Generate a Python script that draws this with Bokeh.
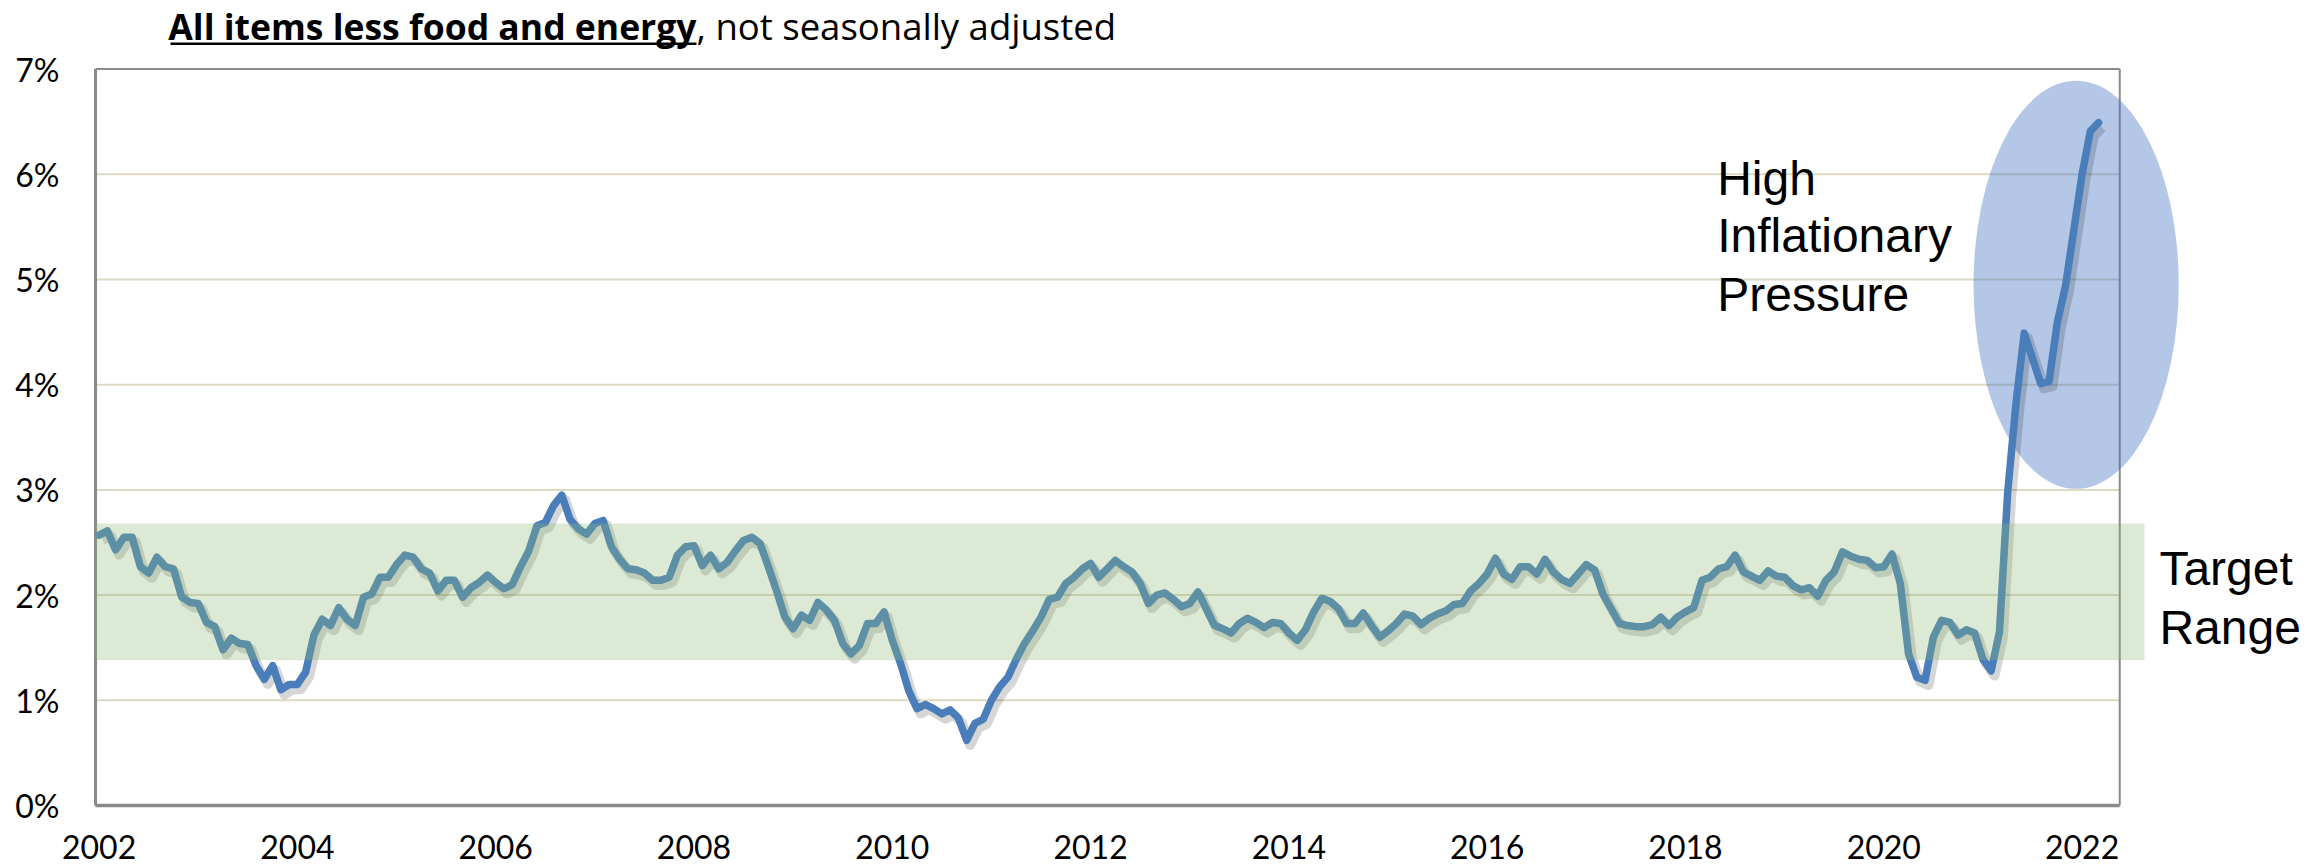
from bokeh.plotting import figure
from bokeh.models import Range1d
from bokeh.core.properties import value
from bokeh.embed import file_html
from bokeh.resources import INLINE

# ---- data: core CPI (all items less food and energy), YoY %, monthly ----
cpi_2002 = [2.57, 2.61, 2.43, 2.55, 2.55, 2.27, 2.21, 2.36, 2.27, 2.25, 1.98, 1.93]
cpi_2003 = [1.92, 1.74, 1.70, 1.48, 1.59, 1.54, 1.53, 1.33, 1.20, 1.33, 1.10, 1.15]
cpi_2004 = [1.15, 1.27, 1.62, 1.77, 1.71, 1.88, 1.77, 1.71, 1.98, 2.01, 2.17, 2.17]
cpi_2005 = [2.29, 2.38, 2.36, 2.25, 2.21, 2.04, 2.14, 2.14, 1.98, 2.07, 2.12, 2.19]
cpi_2006 = [2.12, 2.06, 2.10, 2.27, 2.42, 2.66, 2.69, 2.85, 2.95, 2.72, 2.63, 2.58]
cpi_2007 = [2.68, 2.71, 2.46, 2.34, 2.25, 2.24, 2.21, 2.14, 2.14, 2.17, 2.38, 2.46]
cpi_2008 = [2.47, 2.28, 2.38, 2.25, 2.31, 2.42, 2.52, 2.55, 2.49, 2.27, 2.04, 1.79]
cpi_2009 = [1.68, 1.81, 1.76, 1.93, 1.86, 1.76, 1.54, 1.44, 1.52, 1.73, 1.73, 1.84]
cpi_2010 = [1.57, 1.35, 1.09, 0.92, 0.96, 0.92, 0.87, 0.91, 0.83, 0.62, 0.78, 0.82]
cpi_2011 = [1.00, 1.13, 1.22, 1.39, 1.54, 1.66, 1.79, 1.96, 1.98, 2.11, 2.17, 2.25]
cpi_2012 = [2.30, 2.17, 2.25, 2.33, 2.27, 2.22, 2.11, 1.92, 2.00, 2.02, 1.96, 1.89]
cpi_2013 = [1.92, 2.03, 1.87, 1.71, 1.68, 1.64, 1.73, 1.78, 1.74, 1.69, 1.74, 1.73]
cpi_2014 = [1.64, 1.57, 1.67, 1.84, 1.97, 1.94, 1.87, 1.73, 1.73, 1.83, 1.71, 1.60]
cpi_2015 = [1.66, 1.73, 1.82, 1.80, 1.72, 1.78, 1.82, 1.85, 1.91, 1.92, 2.04, 2.11]
cpi_2016 = [2.20, 2.35, 2.20, 2.15, 2.27, 2.27, 2.20, 2.34, 2.22, 2.15, 2.11, 2.20]
cpi_2017 = [2.29, 2.24, 2.01, 1.87, 1.73, 1.71, 1.70, 1.70, 1.72, 1.79, 1.71, 1.79]
cpi_2018 = [1.84, 1.88, 2.14, 2.17, 2.25, 2.27, 2.38, 2.22, 2.18, 2.14, 2.23, 2.18]
cpi_2019 = [2.17, 2.09, 2.05, 2.07, 1.99, 2.14, 2.22, 2.41, 2.37, 2.34, 2.33, 2.26]
cpi_2020 = [2.27, 2.39, 2.11, 1.44, 1.22, 1.19, 1.60, 1.76, 1.74, 1.62, 1.67, 1.64]
cpi_2021 = [1.39, 1.28, 1.65, 2.98, 3.82, 4.49, 4.25, 4.01, 4.03, 4.59, 4.94, 5.47]
cpi_2022 = [6.00, 6.41, 6.49]

series_years = list(range(2002, 2023))
series_values = [cpi_2002, cpi_2003, cpi_2004, cpi_2005, cpi_2006, cpi_2007, cpi_2008,
                 cpi_2009, cpi_2010, cpi_2011, cpi_2012, cpi_2013, cpi_2014, cpi_2015,
                 cpi_2016, cpi_2017, cpi_2018, cpi_2019, cpi_2020, cpi_2021, cpi_2022]

x_ticks = [2002, 2004, 2006, 2008, 2010, 2012, 2014, 2016, 2018, 2020, 2022]
x_tick_labels = [str(t) for t in x_ticks]
y_ticks = [0, 1, 2, 3, 4, 5, 6, 7]
y_tick_labels = ["%d%%" % t for t in y_ticks]

target_low, target_high = 1.38, 2.68
title_bold = "All items less food and energy"
title_rest = ", not seasonally adjusted"
note_high = ["High", "Inflationary", "Pressure"]
note_target = ["Target", "Range"]

# ---- build the monthly series ----
xs, ys = [], []
for yr, vals in zip(series_years, series_values):
    for m, v in enumerate(vals):
        xs.append(yr + m / 12.0)
        ys.append(v)

# ---- layout constants (frame covers the whole canvas) ----
W, H = 2322, 866
X_START, X_END = 2001.0055, 2024.425
Y_START, Y_END = -0.580, 7.652
PLOT_X0, PLOT_X1 = 2001.964, 2022.38   # framed chart area
BAND_X1 = 2022.63
XLABEL_Y = -0.39
YLABEL_X = 2001.60

p = figure(width=W, height=H, x_range=Range1d(X_START, X_END),
           y_range=Range1d(Y_START, Y_END), output_backend="svg",
           toolbar_location=None, min_border_left=0, min_border_right=0,
           min_border_top=0, min_border_bottom=0)
p.xgrid.visible = False
p.ygrid.visible = False
p.xaxis.visible = False
p.yaxis.visible = False
p.outline_line_color = None
p.background_fill_color = "white"
p.border_fill_color = "white"

# tick labels
p.text(x=x_ticks, y=[XLABEL_Y] * len(x_ticks), text=x_tick_labels,
       text_font=value("Lato"), text_font_size="32px", text_align="center",
       text_baseline="middle", text_color="black")
p.text(x=[YLABEL_X] * len(y_ticks), y=y_ticks, text=y_tick_labels,
       text_font=value("Lato"), text_font_size="32px", text_align="right",
       text_baseline="middle", text_color="black")

# gridlines (inner)
inner = [t for t in y_ticks if 0 < t < max(y_ticks)]
p.segment(x0=[PLOT_X0] * len(inner), y0=inner, x1=[PLOT_X1] * len(inner), y1=inner,
          line_color="#ddd9c3", line_width=2)

# frame border
top = max(y_ticks)
p.segment(x0=[PLOT_X0, PLOT_X0], y0=[0, top], x1=[PLOT_X1, PLOT_X1], y1=[0, top],
          line_color="#8a8a8a", line_width=[3.5, 2])
p.segment(x0=[PLOT_X0, PLOT_X1], y0=[0, 0], x1=[PLOT_X0, PLOT_X1], y1=[top, top],
          line_color="#8a8a8a", line_width=[3, 2])

# high inflation ellipse
p.ellipse(x=[2021.94], y=[4.95], width=[2.07], height=[3.88],
          fill_color="#4472c4", fill_alpha=0.4, line_color=None)

# line shadow + line
p.line([x + 0.035 for x in xs], [y - 0.045 for y in ys], line_color="black",
       line_alpha=0.16, line_width=10, line_join="round")
p.line(xs, ys, line_color="#4a7ebb", line_width=7.5, line_join="round", line_cap="round")

# target range band (on top, translucent)
p.quad(left=[PLOT_X0], right=[BAND_X1], bottom=[target_low], top=[target_high],
       fill_color="#8ab673", fill_alpha=0.3, line_color=None)

# annotations
p.text(x=[2018.32] * 3, y=[5.96, 5.42, 4.86], text=note_high,
       text_font=value("Liberation Sans"), text_font_size="48px",
       text_baseline="middle", text_color="black")
p.text(x=[2022.78] * 2, y=[2.25, 1.69], text=note_target,
       text_font=value("Liberation Sans"), text_font_size="48px",
       text_baseline="middle", text_color="black")

# title: bold underlined part right-aligned at the join, rest left-aligned
TITLE_X0, TITLE_JOIN, TITLE_Y, UNDERLINE_Y = 2002.72, 2008.025, 7.405, 7.24
p.text(x=[TITLE_JOIN], y=[TITLE_Y], text=[title_bold], text_font=value("Open Sans"),
       text_font_style="bold", text_font_size="35.5px", text_baseline="middle",
       text_align="right", text_color="black")
p.segment(x0=[TITLE_X0], y0=[UNDERLINE_Y], x1=[TITLE_JOIN], y1=[UNDERLINE_Y],
          line_color="black", line_width=2.5)
p.text(x=[TITLE_JOIN], y=[TITLE_Y], text=[title_rest], text_font=value("Open Sans"),
       text_font_size="36.5px", text_baseline="middle", text_align="left",
       text_color="black")

open("out.html", "w").write(file_html(p, INLINE))
